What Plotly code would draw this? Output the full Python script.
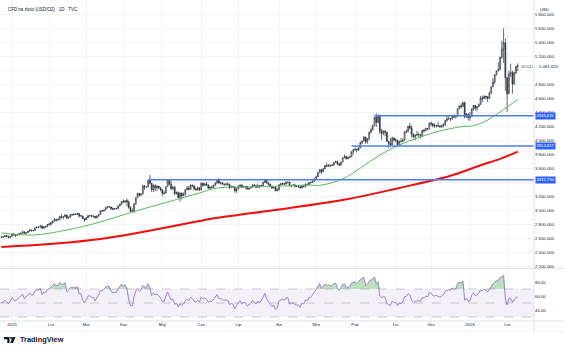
import numpy as np
import pandas as pd
import plotly.graph_objects as go

title_text = "CFD na złoto (USD/OZ) · 1D · TVC"
symbol_name = "GOLD"

# closes before the visible window (Nov 15 - Dec 20, 2024), only used to warm up the RSI
history_closes = [2563, 2612, 2631, 2651, 2670, 2716, 2625, 2633, 2637, 2640, 2650, 2640, 2643,
                  2650, 2632, 2633, 2660, 2694, 2718, 2681, 2648, 2652, 2646, 2586, 2594, 2622]

first_open = 2615
closes = [
    2612, 2617, 2634, 2621, 2606, 2624,  # Dec 2024
    2658, 2640, 2636, 2648, 2661, 2670, 2690, 2663, 2677, 2697, 2715, 2703, 2708, 2745, 2755, 2755, 2770, 2740, 2763, 2760, 2794, 2798,  # Jan
    2815, 2842, 2866, 2856, 2861, 2908, 2898, 2904, 2928, 2883, 2898, 2935, 2933, 2939, 2936, 2951, 2915, 2916, 2876, 2858,  # Feb
    2893, 2918, 2920, 2911, 2910, 2889, 2916, 2934, 2988, 2984, 3000, 3035, 3048, 3044, 3023, 3011, 3020, 3018, 3057, 3085, 3124,  # Mar
    3113, 3134, 3114, 3037, 2982, 2983, 3082, 3175, 3237, 3211, 3229, 3343, 3327, 3328, 3424, 3381, 3288, 3349, 3319, 3343, 3317, 3288,  # Apr
    3239, 3241, 3334, 3431, 3365, 3305, 3325, 3236, 3250, 3178, 3240, 3203, 3230, 3290, 3314, 3295, 3357, 3343, 3300, 3288, 3317, 3289,  # May
    3381, 3353, 3373, 3353, 3310, 3326, 3323, 3355, 3386, 3433, 3384, 3389, 3370, 3368, 3368, 3368, 3323, 3333, 3328, 3274, 3303,  # Jun
    3338, 3357, 3326, 3337, 3336, 3302, 3313, 3324, 3355, 3343, 3324, 3347, 3339, 3350, 3397, 3431, 3387, 3368, 3337, 3314, 3326, 3274, 3289,  # Jul
    3363, 3373, 3380, 3369, 3397, 3398, 3342, 3348, 3356, 3335, 3336, 3332, 3315, 3347, 3339, 3371, 3365, 3393, 3397, 3416, 3448,  # Aug
    3476, 3533, 3578, 3545, 3587, 3636, 3625, 3641, 3634, 3643, 3679, 3690, 3659, 3644, 3685, 3746, 3764, 3736, 3749, 3760, 3833, 3859,  # Sep
    3866, 3857, 3886, 3961, 3985, 4040, 3976, 4018, 4110, 4142, 4209, 4326, 4251, 4356, 4125, 4095, 4125, 4112, 3982, 3952, 3930, 4025, 4002,  # Oct
    4000, 3932, 3980, 3977, 4000, 4115, 4127, 4195, 4172, 4080, 4045, 4066, 4078, 4076, 4065, 4135, 4131, 4165, 4155, 4239,  # Nov
    4231, 4204, 4200, 4208, 4198, 4190, 4208, 4228, 4280, 4300, 4305, 4302, 4340, 4330, 4340, 4445, 4487, 4480, 4533, 4330, 4370, 4320,  # Dec
    4330, 4445, 4495, 4455, 4478, 4510, 4600, 4590, 4625, 4615, 4595, 4670, 4760, 4830, 4935, 4985, 5010, 5180, 5300, 5390, 4890,  # Jan 2026
    4660, 4945, 4965, 4800, 4960, 5050, 5061.625,  # Feb 2026
]
highs = [
    2630, 2620, 2638, 2640, 2634, 2630,
    2665, 2665, 2657, 2656, 2670, 2674, 2697, 2692, 2680, 2700, 2723, 2717, 2711, 2746, 2764, 2758, 2786, 2773, 2765, 2770, 2800, 2817,
    2830, 2845, 2882, 2870, 2887, 2911, 2942, 2906, 2942, 2933, 2906, 2937, 2947, 2954, 2954, 2956, 2950, 2927, 2917, 2881,
    2894, 2928, 2930, 2926, 2930, 2915, 2920, 2940, 2990, 3005, 3001, 3038, 3057, 3047, 3045, 3034, 3023, 3033, 3059, 3087, 3128,
    3149, 3137, 3167, 3136, 3055, 3022, 3099, 3177, 3245, 3245, 3231, 3358, 3357, 3330, 3430, 3500, 3386, 3368, 3367, 3345, 3331, 3327,
    3300, 3269, 3336, 3437, 3435, 3414, 3345, 3344, 3266, 3264, 3253, 3252, 3250, 3296, 3346, 3345, 3366, 3358, 3350, 3325, 3331, 3330,
    3392, 3392, 3385, 3403, 3375, 3338, 3350, 3360, 3398, 3446, 3452, 3403, 3398, 3375, 3385, 3398, 3368, 3347, 3350, 3329, 3308,
    3350, 3365, 3366, 3344, 3343, 3346, 3317, 3330, 3368, 3375, 3366, 3377, 3346, 3361, 3402, 3434, 3438, 3394, 3374, 3345, 3334, 3334, 3315,
    3363, 3385, 3390, 3384, 3409, 3400, 3405, 3358, 3375, 3375, 3345, 3358, 3346, 3350, 3351, 3379, 3376, 3394, 3399, 3423, 3454,
    3489, 3540, 3578, 3565, 3600, 3640, 3674, 3656, 3645, 3656, 3686, 3703, 3707, 3665, 3686, 3748, 3791, 3778, 3761, 3776, 3835, 3871,
    3895, 3875, 3897, 3977, 3990, 4059, 4046, 4022, 4117, 4179, 4218, 4330, 4381, 4360, 4359, 4161, 4147, 4142, 4100, 3986, 4031, 4050, 4040,
    4030, 4000, 3990, 4028, 4020, 4118, 4148, 4204, 4245, 4210, 4095, 4084, 4133, 4110, 4086, 4148, 4159, 4176, 4171, 4250,
    4264, 4240, 4241, 4218, 4260, 4218, 4218, 4240, 4285, 4353, 4350, 4310, 4342, 4375, 4349, 4450, 4498, 4525, 4550, 4550, 4385, 4378,
    4400, 4450, 4500, 4500, 4480, 4518, 4630, 4634, 4640, 4630, 4630, 4690, 4765, 4885, 4940, 4990, 5110, 5190, 5420, 5595, 5450,
    4895, 4990, 5090, 4990, 4975, 5060, 5095,
]
lows = [
    2603, 2606, 2614, 2615, 2597, 2603,
    2623, 2637, 2614, 2630, 2645, 2657, 2664, 2657, 2662, 2671, 2690, 2698, 2697, 2703, 2741, 2735, 2751, 2730, 2735, 2745, 2756, 2779,
    2772, 2809, 2835, 2834, 2853, 2863, 2880, 2865, 2899, 2878, 2879, 2894, 2917, 2922, 2928, 2928, 2890, 2905, 2872, 2832,
    2857, 2883, 2907, 2894, 2896, 2880, 2880, 2905, 2930, 2978, 2982, 2998, 3024, 3032, 2999, 3002, 3005, 3014, 3017, 3053, 3076,
    3100, 3105, 3054, 3015, 2970, 2969, 2957, 3075, 3174, 3193, 3200, 3228, 3284, 3325, 3331, 3366, 3260, 3260, 3267, 3268, 3300, 3268,
    3202, 3222, 3240, 3333, 3362, 3281, 3290, 3208, 3220, 3172, 3121, 3150, 3207, 3205, 3284, 3277, 3287, 3325, 3285, 3275, 3278, 3271,
    3277, 3333, 3343, 3342, 3307, 3293, 3316, 3320, 3347, 3377, 3381, 3363, 3366, 3340, 3347, 3347, 3295, 3312, 3323, 3248, 3247,
    3296, 3328, 3311, 3326, 3296, 3287, 3283, 3307, 3321, 3340, 3320, 3319, 3310, 3335, 3345, 3384, 3380, 3351, 3325, 3302, 3309, 3267, 3268,
    3280, 3352, 3354, 3357, 3367, 3378, 3341, 3331, 3347, 3330, 3324, 3323, 3312, 3311, 3324, 3322, 3351, 3351, 3374, 3385, 3402,
    3436, 3472, 3532, 3511, 3542, 3586, 3622, 3620, 3614, 3633, 3634, 3675, 3646, 3628, 3634, 3683, 3740, 3717, 3722, 3740, 3770, 3792,
    3846, 3820, 3843, 3884, 3943, 3985, 3945, 3950, 4004, 4096, 4139, 4200, 4186, 4246, 4083, 4004, 4067, 4057, 3975, 3886, 3917, 3930, 3974,
    3965, 3929, 3932, 3970, 3968, 3996, 4093, 4105, 4151, 4032, 4028, 3997, 4064, 4039, 4022, 4041, 4105, 4129, 4149, 4155,
    4200, 4180, 4175, 4175, 4193, 4170, 4172, 4180, 4197, 4262, 4290, 4271, 4290, 4310, 4308, 4340, 4440, 4450, 4470, 4310, 4320, 4278,
    4275, 4330, 4420, 4420, 4410, 4470, 4500, 4540, 4590, 4580, 4540, 4590, 4660, 4760, 4800, 4920, 4985, 5000, 5160, 5100, 4700,
    4402, 4660, 4900, 4660, 4790, 4940, 4985,
]

# Moving averages (date, value)
sma50_dates = ["2024-12-23", "2025-01-20", "2025-02-14", "2025-03-13", "2025-04-08", "2025-05-06",
               "2025-05-30", "2025-06-13", "2025-07-10", "2025-08-05", "2025-08-26", "2025-09-03",
               "2025-09-22", "2025-10-06", "2025-10-21", "2025-11-05", "2025-11-21", "2025-12-08",
               "2025-12-23", "2026-01-06", "2026-01-16", "2026-01-27", "2026-02-10"]
sma50_values = [2671, 2643, 2714, 2829, 2971, 3114, 3243, 3314, 3329, 3343, 3357, 3352,
                3443, 3600, 3786, 3929, 4043, 4129, 4186, 4205, 4286, 4400, 4580]
sma200_dates = ["2024-12-23", "2025-03-13", "2025-05-30", "2025-06-09", "2025-09-22",
                "2025-11-05", "2025-12-16", "2026-01-12", "2026-01-27", "2026-02-10"]
sma200_values = [2471, 2586, 2843, 2871, 3143, 3315, 3490, 3640, 3730, 3835]

levels = [4345.631, 3914.817, 3432.790]
level_starts = ["2025-10-16", "2025-09-29", "2025-04-21"]

price_ticks = list(range(2200, 5801, 200))
hidden_price_ticks = [3400, 5000]  # covered by labels in the reference
rsi_ticks = [40, 60, 80]
month_names = {1: "Sty", 2: "Lut", 3: "Mar", 4: "Kwi", 5: "Maj", 6: "Cze",
               7: "Lip", 8: "Sie", 9: "Wrz", 10: "Paź", 11: "Lis", 12: "Gru"}

# ---- dates / index ----
dates = pd.bdate_range("2024-12-23", "2026-03-31")
hol = pd.to_datetime(["2024-12-25", "2025-01-01", "2025-12-25", "2026-01-01"])
dates = dates[~dates.isin(hol)][:len(closes)]
idx = np.arange(len(closes))
d2i = {d.strftime("%Y-%m-%d"): i for i, d in enumerate(dates)}

opens = [first_open] + closes[:-1]
hi = [max(h, o, c) for h, o, c in zip(highs, opens, closes)]
lo = [min(l, o, c) for l, o, c in zip(lows, opens, closes)]

tick_idx, tick_txt = [], []
for i in range(1, len(dates)):
    if dates[i].month != dates[i - 1].month:
        tick_idx.append(i)
        tick_txt.append(str(dates[i].year) if dates[i].month == 1 else month_names[dates[i].month])

# RSI 14 (Wilder), warmed up on the earlier closes
c = np.array(history_closes + closes, float)
dlt = np.diff(c, prepend=c[0])
g = np.clip(dlt, 0, None)
l_ = np.clip(-dlt, 0, None)
n = 14
ag = np.zeros(len(c)); al = np.zeros(len(c))
for i in range(1, len(c)):
    if i <= n:
        ag[i] = g[1:i + 1].mean(); al[i] = l_[1:i + 1].mean()
    else:
        ag[i] = (ag[i - 1] * (n - 1) + g[i]) / n
        al[i] = (al[i - 1] * (n - 1) + l_[i]) / n
rsi_all = 100 - 100 / (1 + ag / np.maximum(al, 1e-9))
ry = rsi_all[len(history_closes):]
rx = idx

# ---- geometry ----
W, H = 564, 353
PW, PH = 534, 321
XMIN, XMAX = -0.79, 301.2
def px(xp): return xp / PW
def py(yp): return (PH - yp) / PH

fig = go.Figure()
fig.add_trace(go.Candlestick(
    x=idx, open=opens, high=hi, low=lo, close=closes, xaxis="x", yaxis="y",
    increasing=dict(line=dict(color="#2a2e39", width=0.7), fillcolor="#ffffff"),
    decreasing=dict(line=dict(color="#2a2e39", width=0.7), fillcolor="#2a2e39"),
    whiskerwidth=0, hoverinfo="skip"))
fig.add_trace(go.Scatter(x=[d2i[d] for d in sma50_dates], y=sma50_values, mode="lines",
                         line=dict(color="#5cb85c", width=1, shape="spline", smoothing=1.0),
                         xaxis="x", yaxis="y", hoverinfo="skip"))
fig.add_trace(go.Scatter(x=[d2i[d] for d in sma200_dates], y=sma200_values, mode="lines",
                         line=dict(color="#f20d0d", width=2, shape="spline", smoothing=1.0),
                         xaxis="x", yaxis="y", hoverinfo="skip"))

# RSI
fig.add_trace(go.Scatter(x=rx, y=[70] * len(rx), mode="lines", line=dict(width=0),
                         xaxis="x2", yaxis="y2", hoverinfo="skip"))
fig.add_trace(go.Scatter(x=rx, y=np.maximum(ry, 70), mode="lines", line=dict(width=0),
                         fill="tonexty", fillcolor="rgba(76,175,80,0.38)",
                         xaxis="x2", yaxis="y2", hoverinfo="skip"))
fig.add_trace(go.Scatter(x=rx, y=ry, mode="lines", line=dict(color="#9575cd", width=0.9),
                         xaxis="x2", yaxis="y2", hoverinfo="skip"))

shapes = []
for lv, st in zip(levels, level_starts):
    shapes.append(dict(type="line", xref="x", yref="y", x0=d2i[st], x1=XMAX, y0=lv, y1=lv,
                       line=dict(color="#4f7ff5", width=1.6)))
shapes.append(dict(type="rect", xref="x2", yref="y2", x0=XMIN, x1=XMAX, y0=30, y1=70,
                   fillcolor="rgba(126,87,194,0.09)", line=dict(width=0), layer="below"))
for v in (70, 50, 30):
    shapes.append(dict(type="line", xref="x2", yref="y2", x0=XMIN, x1=XMAX, y0=v, y1=v,
                       line=dict(color="rgba(120,123,134,0.55)", width=0.7, dash="dash")))
border = "#e0e3eb"
shapes += [
    dict(type="line", xref="paper", yref="paper", x0=0, x1=px(W), y0=py(268.5), y1=py(268.5), line=dict(color=border, width=1)),
    dict(type="line", xref="paper", yref="paper", x0=0, x1=px(W), y0=py(321), y1=py(321), line=dict(color=border, width=1)),
    dict(type="line", xref="paper", yref="paper", x0=0, x1=px(W), y0=py(331.5), y1=py(331.5), line=dict(color="#f0f3fa", width=1)),
    dict(type="line", xref="paper", yref="paper", x0=px(534), x1=px(534), y0=py(0), y1=py(331.5), line=dict(color=border, width=1)),
]
# TradingView logo
shapes += [
    dict(type="path", xref="paper", yref="paper",
         path=f"M {px(4)},{py(337)} L {px(9.5)},{py(337)} L {px(9.5)},{py(343)} L {px(7.3)},{py(343)} L {px(7.3)},{py(339.2)} L {px(4)},{py(339.2)} Z",
         fillcolor="#131722", line=dict(width=0)),
    dict(type="circle", xref="paper", yref="paper", x0=px(10), x1=px(12), y0=py(337), y1=py(339.2),
         fillcolor="#131722", line=dict(width=0)),
    dict(type="path", xref="paper", yref="paper",
         path=f"M {px(12.6)},{py(337)} L {px(15.5)},{py(337)} L {px(13)},{py(343)} L {px(10.3)},{py(343)} Z",
         fillcolor="#131722", line=dict(width=0)),
]

def fmt(v, d=3):
    return f"{v:,.{d}f}".replace(",", " ").replace(".", ",")

price_ticktext = ["" if t in hidden_price_ticks else fmt(t) for t in price_ticks]

ann = [
    dict(xref="paper", yref="paper", x=px(6), y=py(9), text=title_text, showarrow=False,
         xanchor="left", yanchor="middle", font=dict(size=4.45, color="#131722")),
    dict(xref="paper", yref="paper", x=px(544), y=py(9), text="USD", showarrow=False,
         xanchor="center", yanchor="middle", font=dict(size=4.3, color="#131722")),
    dict(xref="paper", yref="paper", x=px(527), y=py(66), text=symbol_name, showarrow=False,
         xanchor="center", yanchor="middle", font=dict(size=4.2, color="#434651")),
    dict(xref="paper", yref="paper", x=px(536.5), y=py(66), text=fmt(closes[-1]), showarrow=False,
         xanchor="left", yanchor="middle", font=dict(size=4.3, color="#131722")),
    dict(xref="paper", yref="paper", x=px(18), y=py(340), text="<b>TradingView</b>", showarrow=False,
         xanchor="left", yanchor="middle", font=dict(size=7.4, color="#131722")),
]
for lv in levels:
    ann.append(dict(xref="paper", yref="y", x=px(534.5), y=lv, text=fmt(lv).replace(" ", ""), showarrow=False,
                    xanchor="left", yanchor="middle", font=dict(size=4.2, color="#ffffff"),
                    bgcolor="#2962ff", borderpad=0.4))

fig.update_layout(
    width=W, height=H, margin=dict(l=0, r=W - PW, t=0, b=H - PH),
    paper_bgcolor="#ffffff", plot_bgcolor="#ffffff", showlegend=False,
    separators=", ", font=dict(family="Liberation Sans, Arial, sans-serif", size=4.3, color="#131722"),
    xaxis=dict(domain=[0, 1], range=[XMIN, XMAX], anchor="y", showticklabels=False,
               tickvals=tick_idx, showgrid=True, gridcolor="#f0f3fa", gridwidth=1,
               zeroline=False, showline=False, ticks="", rangeslider=dict(visible=False), fixedrange=True),
    yaxis=dict(domain=[py(268), 1], range=[2171.43, 6000], side="right", anchor="x",
               tickvals=price_ticks, ticktext=price_ticktext, showgrid=True, gridcolor="#f0f3fa",
               zeroline=False, showline=False, ticks="", tickfont=dict(size=4.3, color="#131722")),
    xaxis2=dict(domain=[0, 1], range=[XMIN, XMAX], anchor="y2", tickvals=tick_idx, ticktext=tick_txt,
                showgrid=True, gridcolor="#f0f3fa", zeroline=False, showline=False, ticks="",
                tickfont=dict(size=4.3, color="#131722")),
    yaxis2=dict(domain=[0, py(269)], range=[24.29, 98.57], side="right", anchor="x2",
                tickvals=rsi_ticks, tickformat=".2f", showgrid=False, zeroline=False,
                showline=False, ticks="", tickfont=dict(size=4.3, color="#131722")),
    shapes=shapes, annotations=ann,
)
fig.write_html("out.html")
